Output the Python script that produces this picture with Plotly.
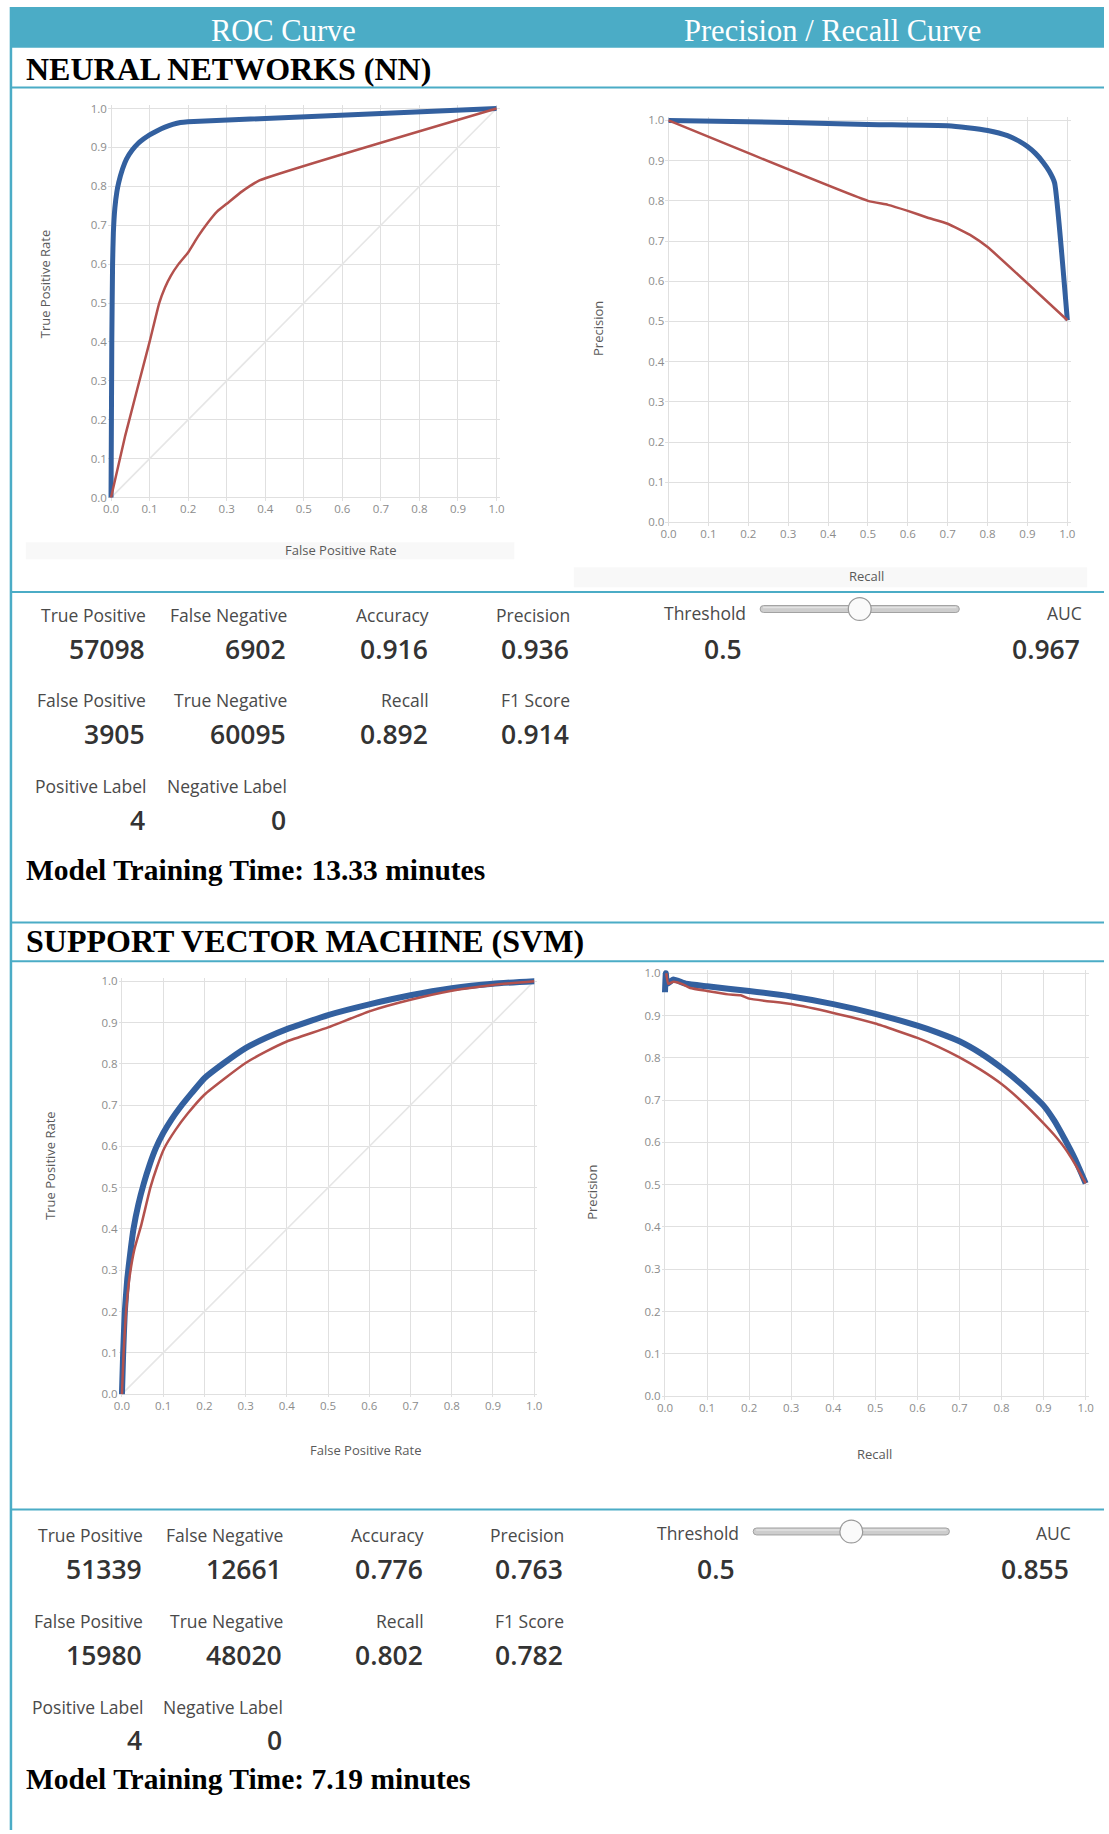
import plotly.graph_objects as go

W, H = 1109, 1834

# ---------------- curve data ----------------
# Neural network: ROC (FPR -> TPR)
nn_roc_blue_x = [0, 0.002, 0.004, 0.006, 0.01, 0.015, 0.02, 0.03, 0.04, 0.055, 0.07, 0.085,
                 0.1, 0.12, 0.14, 0.16, 0.18, 0.2, 1.0]
nn_roc_blue_y = [0, 0.40, 0.60, 0.68, 0.745, 0.785, 0.81, 0.845, 0.87, 0.893, 0.91, 0.922,
                 0.932, 0.943, 0.952, 0.959, 0.964, 0.966, 1.0]
nn_roc_red_x = [0, 0.037, 0.1, 0.125, 0.14, 0.155, 0.175, 0.2, 0.225, 0.25, 0.275, 0.3,
                0.34, 0.385, 1.0]
nn_roc_red_y = [0, 0.16, 0.40, 0.50, 0.54, 0.57, 0.60, 0.63, 0.67, 0.705, 0.735, 0.755,
                0.787, 0.815, 1.0]

# Neural network: precision / recall
nn_pr_blue_x = [0, 0.3, 0.5, 0.7, 0.75, 0.8, 0.85, 0.88, 0.9, 0.92, 0.94, 0.955, 0.968, 1.0]
nn_pr_blue_y = [1.0, 0.995, 0.99, 0.987, 0.982, 0.975, 0.962, 0.948, 0.935, 0.918, 0.895,
                0.873, 0.845, 0.503]
nn_pr_red_x = [0, 0.5, 0.55, 0.6, 0.65, 0.7, 0.76, 0.8, 1.0]
nn_pr_red_y = [1.0, 0.80, 0.79, 0.775, 0.758, 0.743, 0.713, 0.685, 0.503]

# SVM: ROC
svm_roc_blue_x = [0, 0.003, 0.007, 0.013, 0.02, 0.028, 0.04, 0.053, 0.067, 0.082, 0.1, 0.12,
                  0.14, 0.17, 0.2, 0.245, 0.3, 0.35, 0.4, 0.5, 0.6, 0.7, 0.8, 0.9, 1.0]
svm_roc_blue_y = [0, 0.10, 0.20, 0.28, 0.34, 0.40, 0.46, 0.51, 0.555, 0.595, 0.632, 0.665,
                  0.693, 0.73, 0.765, 0.80, 0.838, 0.863, 0.884, 0.918, 0.944, 0.966, 0.983,
                  0.994, 1.0]
svm_roc_red_x = [0, 0.004, 0.01, 0.018, 0.03, 0.047, 0.069, 0.085, 0.103, 0.13, 0.16, 0.2,
                 0.25, 0.3, 0.35, 0.4, 0.5, 0.6, 0.7, 0.8, 0.9, 1.0]
svm_roc_red_y = [0, 0.10, 0.20, 0.28, 0.35, 0.41, 0.50, 0.55, 0.596, 0.64, 0.68, 0.725,
                 0.765, 0.802, 0.83, 0.854, 0.888, 0.927, 0.955, 0.977, 0.991, 1.0]

# SVM: precision / recall
svm_pr_blue_x = [0, 0.002, 0.005, 0.02, 0.05, 0.1, 0.2, 0.3, 0.4, 0.5, 0.6, 0.65, 0.7, 0.75,
                 0.8, 0.85, 0.9, 0.925, 0.95, 0.975, 1.0]
svm_pr_blue_y = [0.955, 1.0, 0.975, 0.985, 0.975, 0.969, 0.958, 0.945, 0.927, 0.904, 0.876,
                 0.859, 0.839, 0.811, 0.776, 0.735, 0.687, 0.652, 0.608, 0.56, 0.503]
svm_pr_red_x = [0.003, 0.008, 0.02, 0.04, 0.06, 0.1, 0.15, 0.18, 0.2, 0.3, 0.4, 0.5, 0.6,
                0.65, 0.7, 0.75, 0.8, 0.85, 0.9, 0.925, 0.95, 0.975, 1.0]
svm_pr_red_y = [1.0, 0.975, 0.98, 0.975, 0.965, 0.958, 0.95, 0.948, 0.94, 0.927, 0.906, 0.881,
                0.847, 0.826, 0.801, 0.772, 0.738, 0.695, 0.645, 0.618, 0.587, 0.548, 0.503]

# ---------------- metrics ----------------
stat_labels = [["True Positive", "False Negative", "Accuracy", "Precision"],
               ["False Positive", "True Negative", "Recall", "F1 Score"],
               ["Positive Label", "Negative Label"]]
nn_stat_values = [["57098", "6902", "0.916", "0.936"],
                  ["3905", "60095", "0.892", "0.914"],
                  ["4", "0"]]
svm_stat_values = [["51339", "12661", "0.776", "0.763"],
                   ["15980", "48020", "0.802", "0.782"],
                   ["4", "0"]]
nn_threshold, nn_auc, nn_minutes = 0.5, 0.967, 13.33
svm_threshold, svm_auc, svm_minutes = 0.5, 0.855, 7.19

header_titles = ["ROC Curve", "Precision / Recall Curve"]
section_titles = ["NEURAL NETWORKS (NN)", "SUPPORT VECTOR MACHINE (SVM)"]

# ---------------- styling ----------------
TEAL = "#4bacc6"
BLUE = "#33609f"
RED = "#b3514d"
GRID = "#e0e0e0"
SERIF = "Liberation Serif"
SANS = "Open Sans"


def X(px):
    return px / W


def Y(py):
    return 1 - py / H


fig = go.Figure()
shapes = []
annotations = []

PAD = 0.008
# pixel positions of value 0 and value 1 on each subplot's axes
panels = [
    dict(x0=107, x1=496, y0=495, y1=104),      # NN ROC
    dict(x0=669.6, x1=1072, y0=520, y1=116),   # NN PR
    dict(x0=118, x1=534, y0=1396, y1=981),     # SVM ROC
    dict(x0=666, x1=1090.5, y0=1398, y1=973),  # SVM PR
]

layout_axes = {}
for i, p in enumerate(panels, start=1):
    wx = p["x1"] - p["x0"]
    hy = p["y0"] - p["y1"]
    xd = [X(p["x0"] - PAD * wx), X(p["x1"] + PAD * wx)]
    yd = [Y(p["y0"] + PAD * hy), Y(p["y1"] - PAD * hy)]
    sfx = "" if i == 1 else str(i)
    common = dict(range=[-PAD, 1 + PAD], dtick=0.1, tick0=0, tickformat=".1f",
                  showgrid=True, gridcolor=GRID, gridwidth=1.3, zeroline=False,
                  showline=False, ticks="", fixedrange=True,
                  tickfont=dict(family=SANS, size=11.5, color="#8c8c8c"))
    layout_axes["xaxis" + sfx] = dict(domain=xd, anchor="y" + sfx, **common)
    layout_axes["yaxis" + sfx] = dict(domain=yd, anchor="x" + sfx, **common)


def add_curve(ax, xs, ys, color, width):
    sfx = "" if ax == 1 else str(ax)
    fig.add_trace(go.Scatter(x=xs, y=ys, mode="lines",
                             line=dict(color=color, width=width, shape="spline", smoothing=0.4),
                             xaxis="x" + sfx, yaxis="y" + sfx, showlegend=False,
                             hoverinfo="skip"))


# chance diagonals on the ROC plots
for ax in (1, 3):
    add_curve(ax, [0, 1], [0, 1], "#e6e6e6", 1.6)

add_curve(1, nn_roc_blue_x, nn_roc_blue_y, BLUE, 5)
add_curve(1, nn_roc_red_x, nn_roc_red_y, RED, 2.5)
add_curve(2, nn_pr_blue_x, nn_pr_blue_y, BLUE, 5)
add_curve(2, nn_pr_red_x, nn_pr_red_y, RED, 2.5)
add_curve(3, svm_roc_blue_x, svm_roc_blue_y, BLUE, 6)
add_curve(3, svm_roc_red_x, svm_roc_red_y, RED, 2.5)
add_curve(4, svm_pr_blue_x, svm_pr_blue_y, BLUE, 6)
add_curve(4, svm_pr_red_x, svm_pr_red_y, RED, 2.5)


def text(px, py, s, size, color="#444", family=SANS, xanchor="left", weight="normal",
         angle=0):
    annotations.append(dict(x=X(px), y=Y(py), xref="paper", yref="paper", text=s,
                            showarrow=False, xanchor=xanchor, yanchor="middle",
                            textangle=angle,
                            font=dict(family=family, size=size, color=color, weight=weight)))


def hline(py, x0=6, x1=W, color=TEAL, width=2):
    shapes.append(dict(type="line", xref="paper", yref="paper", x0=X(x0), x1=X(x1),
                       y0=Y(py), y1=Y(py), line=dict(color=color, width=width)))


def rect(x0, y0, x1, y1, fill, line_color=None, lw=0):
    shapes.append(dict(type="rect", xref="paper", yref="paper", x0=X(x0), x1=X(x1),
                       y0=Y(y1), y1=Y(y0), fillcolor=fill, layer="below",
                       line=dict(color=line_color or fill, width=lw)))


# header band
rect(6, 2, W, 43, TEAL)
text(281, 26, header_titles[0], 30.5, "white", SERIF, "center")
text(835, 26, header_titles[1], 30.5, "white", SERIF, "center")

# frame lines
shapes.append(dict(type="line", xref="paper", yref="paper", x0=X(6), x1=X(6), y0=Y(2),
                   y1=Y(H), line=dict(color=TEAL, width=2.5)))
for py in (83, 590, 922, 961, 1512):
    hline(py)

# section titles
text(19, 64, section_titles[0], 32, "black", SERIF, weight="bold")
text(19, 941, section_titles[1], 32, "black", SERIF, weight="bold")

# faint bands behind the NN axis titles
rect(21, 540, 514, 557, "#f8f8f8")
rect(574, 565, 1092, 585, "#f8f8f8")

# axis titles
axis_titles = [
    (40, 280, 339, 548, "True Positive Rate", "False Positive Rate"),
    (599, 325, 869, 574, "Precision", "Recall"),
    (46, 1166, 364, 1452, "True Positive Rate", "False Positive Rate"),
    (592, 1193, 877, 1456, "Precision", "Recall"),
]
for yx, yy, xx, xy, yt, xt in axis_titles:
    text(yx, yy, yt, 13, "#5a5a5a", xanchor="center", angle=-90)
    text(xx, xy, xt, 13, "#5a5a5a", xanchor="center")


def slider(x0, x1, yc, value):
    h = 3.5
    r = 3.5
    path = (f"M {X(x0 + r)},{Y(yc - h)} L {X(x1 - r)},{Y(yc - h)} "
            f"Q {X(x1)},{Y(yc - h)} {X(x1)},{Y(yc)} Q {X(x1)},{Y(yc + h)} {X(x1 - r)},{Y(yc + h)} "
            f"L {X(x0 + r)},{Y(yc + h)} Q {X(x0)},{Y(yc + h)} {X(x0)},{Y(yc)} "
            f"Q {X(x0)},{Y(yc - h)} {X(x0 + r)},{Y(yc - h)} Z")
    shapes.append(dict(type="path", xref="paper", yref="paper", path=path,
                       fillcolor="#cdcdcd", line=dict(color="#a2a2a2", width=1)))
    shapes.append(dict(type="line", xref="paper", yref="paper", x0=X(x0 + 3), x1=X(x1 - 3),
                       y0=Y(yc - 1.5), y1=Y(yc - 1.5), line=dict(color="#e2e2e2", width=1.5)))
    kx = x0 + value * (x1 - x0)
    kr = 11.5
    shapes.append(dict(type="circle", xref="paper", yref="paper", x0=X(kx - kr), x1=X(kx + kr),
                       y0=Y(yc + kr), y1=Y(yc - kr), fillcolor="#fafafa",
                       line=dict(color="#9a9a9a", width=1.2)))


def stats_block(values, cols, label_rows, value_rows, thr, auc, minutes, thr_box, time_y):
    for r, labels in enumerate(stat_labels):
        for c, lab in enumerate(labels):
            text(cols[c] + 1, label_rows[r], lab, 17.5, "#4a4a4a", xanchor="right")
            text(cols[c], value_rows[r], values[r][c], 26.5, "#333333", xanchor="right",
                 weight=600)
    tx, s0, s1, sy, thr_r, auc_r, ly, vy = thr_box
    text(tx, ly, "Threshold", 17.5, "#4a4a4a")
    slider(s0, s1, sy, thr)
    text(thr_r, vy, f"{thr}", 26.5, "#333333", xanchor="right", weight=600)
    text(auc_r + 2, ly, "AUC", 17.5, "#4a4a4a", xanchor="right")
    text(auc_r, vy, f"{auc:.3f}", 26.5, "#333333", xanchor="right", weight=600)
    text(19, time_y, f"Model Training Time: {minutes} minutes", 29.5, "black", SERIF,
         weight="bold")


stats_block(nn_stat_values, [143, 286, 429, 571], [613, 698, 785], [647, 733, 819],
            nn_threshold, nn_auc, nn_minutes,
            (663, 762, 963, 607, 746, 1087, 611, 647), 869)
stats_block(svm_stat_values, [140, 282, 424, 565], [1538, 1624, 1710], [1572, 1658, 1744],
            svm_threshold, svm_auc, svm_minutes,
            (656, 755, 953, 1534, 739, 1076, 1536, 1572), 1783)

fig.update_layout(
    width=W, height=H, margin=dict(l=0, r=0, t=0, b=0),
    paper_bgcolor="white", plot_bgcolor="white", showlegend=False,
    shapes=shapes, annotations=annotations, **layout_axes,
)

page_reset = ("document.documentElement.style.margin='0';"
              "document.documentElement.style.overflow='hidden';"
              "document.body.style.margin='0';"
              "document.body.style.overflow='hidden';")
fig.write_html("out.html", post_script=page_reset)
